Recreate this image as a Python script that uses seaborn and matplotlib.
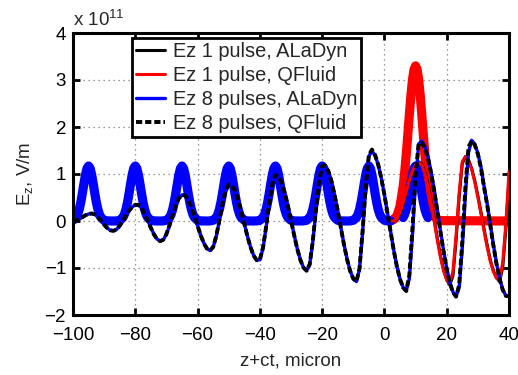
import numpy as np
import matplotlib
matplotlib.use("Agg")
import matplotlib.pyplot as plt
import seaborn as sns

# ---------------- data (Ez in units of 1e11 V/m) ----------------
x_wake = np.arange(-100, 41)          # z+ct, micron (step 1)
ez8_aladyn = [
    0.000, 0.011, 0.040, 0.080, 0.120, 0.149, 0.160, 0.141, 0.086, 0.009,      # -100..-91
    -0.075, -0.149, -0.197, -0.209, -0.178, -0.104, -0.003, 0.110, 0.214, 0.299,  # -90..-81
    0.344, 0.342, 0.279, 0.162, 0.015, -0.142, -0.283, -0.385, -0.428, -0.399,    # -80..-71
    -0.281, -0.096, 0.119, 0.320, 0.480, 0.556, 0.541, 0.454, 0.304, 0.114,       # -70..-61
    -0.098, -0.299, -0.468, -0.585, -0.630, -0.558, -0.328, 0.004, 0.353, 0.633,  # -60..-51
    0.772, 0.757, 0.650, 0.464, 0.221, -0.048, -0.319, -0.553, -0.733, -0.833,    # -50..-41
    -0.827, -0.582, -0.139, 0.369, 0.781, 0.974, 0.948, 0.821, 0.607, 0.335,      # -40..-31
    0.023, -0.293, -0.587, -0.823, -0.989, -1.058, -0.931, -0.443, 0.206, 0.827,  # -30..-21
    1.167, 1.181, 1.065, 0.854, 0.558, 0.229, -0.135, -0.493, -0.808, -1.061,     # -20..-11
    -1.225, -1.290, -1.024, -0.235, 0.711, 1.380, 1.491, 1.393, 1.195, 0.908,     # -10..-1
    0.558, 0.166, -0.237, -0.623, -0.964, -1.233, -1.412, -1.487, -1.224, -0.290, # 0..9
    0.844, 1.640, 1.705, 1.590, 1.364, 1.044, 0.661, 0.234, -0.211, -0.634,       # 10..19
    -1.004, -1.307, -1.510, -1.604, -1.417, -0.568, 0.571, 1.460, 1.718, 1.637,   # 20..29
    1.444, 1.147, 0.738, 0.361, -0.076, -0.508, -0.904, -1.224, -1.460, -1.590,   # 30..39
    -1.600,                                                                       # 40
]
ez8_qfluid = [
    0.000, 0.012, 0.042, 0.082, 0.122, 0.150, 0.160, 0.140, 0.084, 0.006,
    -0.078, -0.151, -0.198, -0.209, -0.176, -0.100, 0.002, 0.115, 0.218, 0.301,
    0.345, 0.340, 0.275, 0.157, 0.010, -0.147, -0.287, -0.388, -0.429, -0.396,
    -0.276, -0.090, 0.125, 0.325, 0.484, 0.557, 0.539, 0.450, 0.299, 0.108,
    -0.104, -0.304, -0.472, -0.587, -0.630, -0.552, -0.318, 0.015, 0.363, 0.640,
    0.775, 0.755, 0.645, 0.458, 0.214, -0.055, -0.326, -0.558, -0.737, -0.835,
    -0.822, -0.570, -0.125, 0.382, 0.790, 0.978, 0.945, 0.815, 0.600, 0.327,
    0.015, -0.300, -0.593, -0.828, -0.992, -1.057, -0.920, -0.425, 0.225, 0.840,
    1.172, 1.180, 1.060, 0.847, 0.550, 0.220, -0.144, -0.501, -0.815, -1.066,
    -1.228, -1.290, -1.005, -0.205, 0.740, 1.400, 1.520, 1.405, 1.200, 0.908,
    0.555, 0.160, -0.243, -0.630, -0.970, -1.238, -1.416, -1.490, -1.150, -0.150,
    0.980, 1.660, 1.665, 1.550, 1.330, 1.010, 0.630, 0.205, -0.238, -0.658,
    -1.024, -1.322, -1.520, -1.610, -1.360, -0.450, 0.720, 1.580, 1.700, 1.620,
    1.425, 1.125, 0.715, 0.338, -0.098, -0.528, -0.920, -1.236, -1.468, -1.594,
    -1.598,
]
x_1pulse = np.arange(2, 41)           # 1-pulse simulation window
ez1_aladyn = [
    0.0, 0.0, 0.03, 0.15, 0.35, 0.60, 0.85, 1.06, 1.20, 1.26,
    1.21, 1.04, 0.77, 0.42, 0.03, -0.37, -0.74, -1.04, -1.25, -1.36,
    -1.17, -0.42, 0.52, 1.22, 1.37, 1.30, 1.12, 0.86, 0.54, 0.19,
    -0.17, -0.52, -0.83, -1.06, -1.21, -1.29, -0.98, -0.16, 0.90,
]
ez1_qfluid = [
    0.0, 0.0, 0.047, 0.180, 0.386, 0.625, 0.864, 1.067, 1.202, 1.250,
    1.188, 1.008, 0.726, 0.375, -0.019, -0.414, -0.775, -1.064, -1.255, -1.330,
    -1.071, -0.306, 0.613, 1.263, 1.372, 1.282, 1.098, 0.831, 0.506, 0.152,
    -0.212, -0.560, -0.861, -1.080, -1.218, -1.260, -0.870, -0.040, 1.050,
]
# laser pulse profiles (thick curves)
pulse8_centers = [-95, -80, -65, -50, -35, -20, -5, 10]
pulse8_offsets = [-7, -6, -5, -4, -3.5, -3, -2.5, -2, -1.5, -1, -0.5, 0,
                  0.5, 1, 1.5, 2, 2.5, 3, 3.5, 4, 5, 6, 7]
pulse8_profile = [0.0, 0.002, 0.015, 0.073, 0.140, 0.247, 0.397, 0.586, 0.793, 0.984, 1.120, 1.170,
                  1.120, 0.984, 0.793, 0.586, 0.397, 0.247, 0.140, 0.073, 0.015, 0.002, 0.0]
pulse1_center = 10
pulse1_offsets = [-8, -7, -6, -5, -4, -3.5, -3, -2.5, -2, -1.5, -1, -0.5, 0,
                  0.5, 1, 1.5, 2, 2.5, 3, 3.5, 4, 5, 6, 7, 8]
pulse1_profile = [0.008, 0.032, 0.110, 0.311, 0.727, 1.037, 1.409, 1.828, 2.261, 2.668, 3.002, 3.223, 3.300,
                  3.223, 3.002, 2.668, 2.261, 1.828, 1.409, 1.037, 0.727, 0.311, 0.110, 0.032, 0.008]
window_start = 1.5
window_end = 40

legend_labels = ["Ez 1 pulse, ALaDyn", "Ez 1 pulse, QFluid",
                 "Ez 8 pulses, ALaDyn", "Ez 8 pulses, QFluid"]
x_ticks = [-100, -80, -60, -40, -20, 0, 20, 40]
y_ticks = [-2, -1, 0, 1, 2, 3, 4]

# ---------------- style ----------------
sns.set_style("ticks")
plt.rcParams['font.family'] = ['Liberation Sans', 'DejaVu Sans']
plt.rcParams['mathtext.fontset'] = 'custom'
plt.rcParams['mathtext.rm'] = 'Liberation Sans'
FS = 13.5
LFS = 14.4

fig = plt.figure(figsize=(5.18, 3.75), dpi=100)
ax = fig.add_axes([73/518, 1-315/375, (509-73)/518, (315-33)/375])

# thick pulse envelopes
off8 = np.array(pulse8_offsets)
prof8 = np.array(pulse8_profile)
xa, ya = [], []
for c in pulse8_centers[:-1]:
    xa.extend(c + off8); ya.extend(prof8)
xa.append(window_start); ya.append(0.0)
mask_last = np.abs(off8) <= 4
xb = pulse8_centers[-1] + off8[mask_last]
yb = prof8[mask_last]
xr = [window_start] + list(pulse1_center + np.array(pulse1_offsets)) + [window_end]
yr = [0.0] + list(pulse1_profile) + [0.0]

THICK = 6.6
sns.lineplot(x=xr, y=yr, ax=ax, color='#ff0000', linewidth=THICK, estimator=None,
             sort=False, legend=False, zorder=2)
sns.lineplot(x=xa, y=ya, ax=ax, color='#0000ff', linewidth=THICK, estimator=None,
             sort=False, legend=False, zorder=2.1)
sns.lineplot(x=xb, y=yb, ax=ax, color='#0000ff', linewidth=THICK, estimator=None,
             sort=False, legend=False, zorder=2.1)

# thin Ez curves
sns.lineplot(x=x_1pulse, y=ez1_aladyn, ax=ax, color='black', linewidth=2.2,
             estimator=None, sort=False, legend=False, zorder=3)
sns.lineplot(x=x_1pulse, y=ez1_qfluid, ax=ax, color='#ff0000', linewidth=2.2,
             estimator=None, sort=False, legend=False, zorder=3.1)
sns.lineplot(x=x_wake, y=ez8_aladyn, ax=ax, color='#0000ff', linewidth=2.4,
             estimator=None, sort=False, legend=False, zorder=3.2)
sns.lineplot(x=x_wake, y=ez8_qfluid, ax=ax, color='black', linewidth=2.8,
             linestyle=(0, (1.6, 0.75)), estimator=None, sort=False, legend=False, zorder=3.3)

lines = ax.get_lines()
handles = [lines[3], lines[4], lines[5], lines[6]]

ax.set_xlim(-100, 40)
ax.set_ylim(-2, 4)
ax.set_xticks(x_ticks)
ax.set_yticks(y_ticks)
ax.grid(True, linestyle=(0, (1, 3)), color='#7a7a7a', linewidth=0.9)
ax.set_axisbelow(True)
for s in ax.spines.values():
    s.set_linewidth(2.2)
    s.set_color('black')
ax.tick_params(direction='in', top=True, right=True, length=5, width=2,
               labelsize=FS, colors='black')
ax.tick_params(axis='x', pad=8.5)
ax.tick_params(axis='y', pad=5)
ax.set_xlabel('z+ct, micron', fontsize=FS, labelpad=6)
ax.set_ylabel(r'E$_\mathregular{z}$, V/m', fontsize=FS, labelpad=6)
ax.text(0.0, 1.012, r'x 10$^\mathregular{11}$', transform=ax.transAxes,
        fontsize=FS, ha='left', va='bottom')

leg = ax.legend(handles, legend_labels, loc='upper left',
                bbox_to_anchor=(0.135, 0.982), borderaxespad=0,
                fontsize=LFS, frameon=True, fancybox=False, framealpha=1,
                edgecolor='black', borderpad=0.2, handlelength=1.45,
                handletextpad=0.4, labelspacing=0.25)
leg.get_frame().set_linewidth(2.0)
leg.set_zorder(10)

fig.savefig('out.png', dpi=100)
